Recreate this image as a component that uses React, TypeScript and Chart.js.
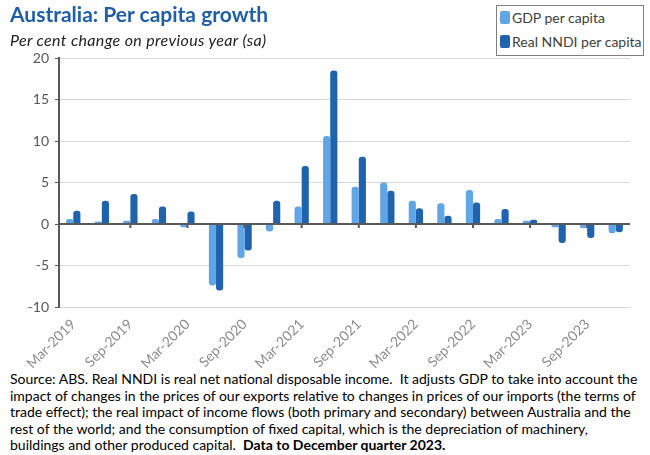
import React, { useEffect, useRef } from 'react';
import Chart from 'chart.js/auto';

const quarters = [
  'Mar-2019', 'Jun-2019', 'Sep-2019', 'Dec-2019',
  'Mar-2020', 'Jun-2020', 'Sep-2020', 'Dec-2020',
  'Mar-2021', 'Jun-2021', 'Sep-2021', 'Dec-2021',
  'Mar-2022', 'Jun-2022', 'Sep-2022', 'Dec-2022',
  'Mar-2023', 'Jun-2023', 'Sep-2023', 'Dec-2023',
];
const gdpPerCapita = [0.6, 0.3, 0.4, 0.6, -0.4, -7.4, -4.1, -0.9, 2.1, 10.6, 4.5, 5.0, 2.8, 2.5, 4.1, 0.6, 0.4, -0.4, -0.5, -1.1];
const nndiPerCapita = [1.6, 2.8, 3.6, 2.1, 1.5, -8.0, -3.2, 2.8, 7.0, 18.5, 8.1, 4.0, 1.9, 1.0, 2.6, 1.8, 0.5, -2.3, -1.7, -1.0];
const seriesNames = ['GDP per capita', 'Real NNDI per capita'];
const sourceLines = [
  'Source: ABS. Real NNDI is real net national disposable income.\u00a0 It adjusts GDP to take into account the',
  'impact of changes in the prices of our exports relative to changes in prices of our imports (the terms of',
  'trade effect); the real impact of income flows (both primary and secondary) between Australia and the',
  'rest of the world; and the consumption of fixed capital, which is the depreciation of machinery,',
  'buildings and other produced capital.\u00a0 ',
];
const sourceBold = 'Data to December quarter 2023.';

const LIGHT = '#60a5e6';
const DARK = '#1f63ae';
const AXIS = '#595959';
const FONT = "Lato, 'DejaVu Sans', sans-serif";

// zero line and small tick marks under every labelled quarter
const zeroTicks = {
  id: 'zeroTicks',
  afterDatasetsDraw(chart: any) {
    const { ctx, scales } = chart;
    const y0 = scales.y.getPixelForValue(0);
    ctx.save();
    ctx.strokeStyle = AXIS;
    ctx.lineWidth = 2;
    ctx.beginPath();
    ctx.moveTo(scales.x.left, y0);
    ctx.lineTo(scales.x.right, y0);
    ctx.stroke();
    quarters.forEach((_, i) => {
      if (i % 2 !== 0 || i === 0) return;
      const x = scales.x.getPixelForValue(i);
      ctx.beginPath();
      ctx.moveTo(x, y0);
      ctx.lineTo(x, y0 + 4);
      ctx.stroke();
    });
    ctx.restore();
  },
};

const App: React.FC = () => {
  const canvasRef = useRef<HTMLCanvasElement>(null);

  useEffect(() => {
    document.body.style.margin = '0';
    if (!canvasRef.current) return;
    const chart = new Chart(canvasRef.current, {
      type: 'bar',
      data: {
        labels: quarters,
        datasets: [
          { label: seriesNames[0], data: gdpPerCapita, backgroundColor: LIGHT, borderRadius: 3 },
          { label: seriesNames[1], data: nndiPerCapita, backgroundColor: DARK, borderRadius: 3 },
        ],
      },
      options: {
        animation: false,
        responsive: true,
        maintainAspectRatio: false,
        datasets: { bar: { categoryPercentage: 0.5, barPercentage: 1 } } as any,
        layout: { padding: { left: 0, top: 58, right: 20, bottom: 0 } },
        plugins: { legend: { display: false }, tooltip: { enabled: false } },
        scales: {
          x: {
            grid: { display: false },
            border: { display: false },
            ticks: {
              autoSkip: false,
              maxRotation: 45,
              minRotation: 45,
              padding: 1,
              color: '#8c8c8c',
              font: { family: FONT, size: 14 },
              callback: (_v: any, i: number) => (i % 2 === 0 ? quarters[i] : ''),
            },
            afterFit: (scale: any) => { scale.height = 63; },
          },
          y: {
            min: -10,
            max: 20,
            ticks: { stepSize: 5, color: AXIS, padding: 6, font: { family: FONT, size: 14 } },
            grid: { color: '#d9d9d9', lineWidth: 1, tickColor: AXIS, tickLength: 4 },
            border: { color: AXIS, width: 2 },
            afterFit: (scale: any) => { scale.width = 59; },
          },
        },
      },
      plugins: [zeroTicks],
    });
    return () => chart.destroy();
  }, []);

  return (
    <div style={{ position: 'relative', width: 650, height: 455, background: '#fff', fontFamily: FONT, overflow: 'hidden' }}>
      <div style={{ position: 'absolute', left: 0, top: 0, width: 650, height: 370 }}>
        <canvas ref={canvasRef}></canvas>
      </div>
      <div style={{ position: 'absolute', left: 10, top: 1, fontSize: 21, fontWeight: 'bold', color: '#1f5fa8' }}>
        Australia: Per capita growth
      </div>
      <div style={{ position: 'absolute', left: 10, top: 30, fontSize: 16, fontStyle: 'italic', color: '#222', letterSpacing: 0.35 }}>
        Per cent change on previous year (sa)
      </div>
      <div style={{ position: 'absolute', left: 496, top: 5, width: 146, height: 49, border: '1px solid #7f7f7f', background: '#fff', fontSize: 14, color: '#404040' }}>
        {seriesNames.map((name, i) => (
          <div key={name} style={{ position: 'absolute', left: 3, top: 3 + i * 24, display: 'flex', alignItems: 'center', whiteSpace: 'nowrap' }}>
            <span style={{ display: 'inline-block', width: 10, height: 13, borderRadius: 2, background: i === 0 ? LIGHT : DARK, marginRight: 2 }}></span>
            {name}
          </div>
        ))}
      </div>
      <div style={{ position: 'absolute', left: 10, top: 371, width: 645, fontSize: 14, lineHeight: '16.6px', color: '#000', whiteSpace: 'nowrap' }}>
        {sourceLines.map((line, i) => (
          <div key={i}>
            {line}
            {i === sourceLines.length - 1 ? <b>{sourceBold}</b> : null}
          </div>
        ))}
      </div>
    </div>
  );
};

export default App;
